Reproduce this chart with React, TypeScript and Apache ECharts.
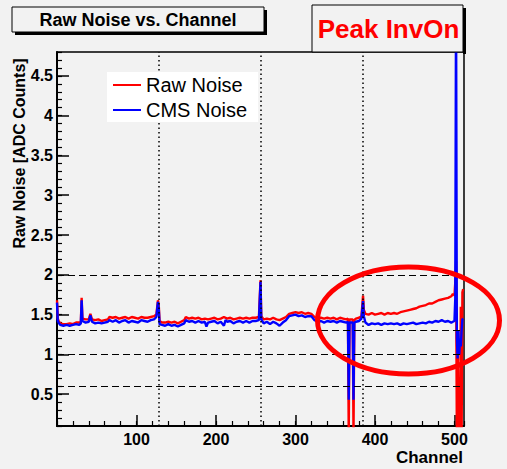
import React, { useEffect, useRef } from "react";
import * as echarts from "echarts";

// [channel, noise] pairs
const rawNoise: [number, number][] = [
  [0, 1.68], [1, 1.45], [2, 1.42], [4, 1.39], [8, 1.38], [12, 1.38], [16, 1.39], [20, 1.38],
  [24, 1.4], [28, 1.4], [30, 1.41], [31, 1.71], [32, 1.45], [36, 1.44], [40, 1.44], [42, 1.51],
  [44, 1.44], [48, 1.43], [52, 1.44], [56, 1.42], [60, 1.43], [64, 1.44], [66, 1.47], [70, 1.46],
  [74, 1.47], [78, 1.45], [82, 1.46], [86, 1.47], [90, 1.45], [94, 1.47], [98, 1.46], [102, 1.45],
  [106, 1.47], [110, 1.46], [114, 1.46], [118, 1.47], [122, 1.48], [125, 1.5], [127, 1.68], [128, 1.62],
  [129, 1.42], [132, 1.4], [136, 1.4], [140, 1.41], [144, 1.4], [148, 1.41], [152, 1.39], [156, 1.41],
  [160, 1.43], [162, 1.47], [166, 1.45], [170, 1.46], [174, 1.45], [178, 1.46], [182, 1.44], [186, 1.45],
  [190, 1.44], [194, 1.45], [198, 1.46], [202, 1.44], [206, 1.45], [210, 1.47], [214, 1.45], [218, 1.46],
  [222, 1.44], [226, 1.45], [230, 1.46], [234, 1.45], [238, 1.46], [242, 1.45], [246, 1.46], [250, 1.46],
  [254, 1.47], [256, 1.93], [257, 1.48], [260, 1.44], [264, 1.45], [268, 1.44], [272, 1.46], [276, 1.44],
  [280, 1.43], [284, 1.45], [288, 1.47], [292, 1.51], [296, 1.52], [300, 1.53], [304, 1.52], [308, 1.53],
  [312, 1.51], [316, 1.52], [320, 1.51], [324, 1.47], [328, 1.45], [332, 1.46], [336, 1.45], [340, 1.46],
  [344, 1.45], [348, 1.46], [352, 1.44], [356, 1.46], [360, 1.45], [364, 1.44], [366, 1.45], [367, 0.0],
  [368, 1.44], [372, 1.44], [373, 0.0], [374, 1.43], [376, 1.45], [380, 1.46], [383, 1.48], [385, 1.74],
  [386, 1.56], [388, 1.51], [392, 1.5], [396, 1.52], [400, 1.5], [404, 1.51], [408, 1.52], [412, 1.5],
  [416, 1.52], [420, 1.51], [424, 1.52], [428, 1.51], [432, 1.53], [436, 1.54], [440, 1.55], [444, 1.56],
  [448, 1.57], [452, 1.58], [456, 1.6], [460, 1.61], [464, 1.62], [468, 1.64], [472, 1.64], [476, 1.66],
  [480, 1.68], [484, 1.69], [488, 1.7], [492, 1.71], [496, 1.73], [498, 1.76], [500, 1.74], [501, 1.9],
  [502, 2.17], [503, 0.0], [504, 1.2], [505, 0.0], [506, 0.3], [507, 0.0], [508, 1.6], [509, 0.0],
  [510, 1.78], [511, 1.82],
];

const cmsNoise: [number, number][] = [
  [0, 1.65], [1, 1.42], [2, 1.4], [4, 1.37], [8, 1.36], [12, 1.37], [16, 1.36], [20, 1.37],
  [24, 1.38], [28, 1.37], [30, 1.39], [31, 1.68], [32, 1.42], [36, 1.4], [40, 1.41], [42, 1.49],
  [44, 1.41], [48, 1.39], [52, 1.4], [56, 1.39], [60, 1.4], [64, 1.41], [66, 1.43], [70, 1.41],
  [74, 1.43], [78, 1.4], [82, 1.42], [86, 1.43], [90, 1.4], [94, 1.42], [98, 1.41], [102, 1.4],
  [106, 1.43], [110, 1.42], [114, 1.41], [118, 1.43], [122, 1.44], [125, 1.47], [127, 1.66], [128, 1.58],
  [129, 1.38], [132, 1.37], [136, 1.36], [140, 1.38], [144, 1.36], [148, 1.37], [152, 1.35], [156, 1.37],
  [160, 1.39], [162, 1.43], [166, 1.41], [170, 1.42], [174, 1.4], [178, 1.42], [182, 1.4], [186, 1.41],
  [188, 1.35], [190, 1.4], [194, 1.41], [198, 1.42], [202, 1.39], [206, 1.41], [210, 1.36], [212, 1.43],
  [214, 1.41], [218, 1.42], [222, 1.39], [226, 1.41], [230, 1.42], [234, 1.4], [238, 1.42], [242, 1.4],
  [246, 1.42], [250, 1.42], [254, 1.43], [256, 1.91], [257, 1.44], [260, 1.39], [264, 1.41], [268, 1.38],
  [272, 1.41], [276, 1.39], [280, 1.36], [284, 1.4], [288, 1.43], [292, 1.48], [296, 1.49], [300, 1.5],
  [304, 1.48], [308, 1.49], [312, 1.47], [316, 1.48], [320, 1.48], [324, 1.43], [328, 1.41], [332, 1.42],
  [336, 1.4], [340, 1.42], [344, 1.41], [348, 1.42], [352, 1.4], [356, 1.42], [360, 1.41], [364, 1.4],
  [366, 1.41], [367, 0.43], [368, 1.4], [372, 1.4], [373, 0.43], [374, 1.4], [376, 1.41], [380, 1.42],
  [383, 1.45], [385, 1.67], [386, 1.48], [388, 1.4], [392, 1.37], [396, 1.39], [400, 1.38], [404, 1.39],
  [408, 1.37], [412, 1.39], [416, 1.38], [420, 1.39], [424, 1.38], [428, 1.39], [432, 1.37], [436, 1.39],
  [440, 1.38], [444, 1.39], [448, 1.4], [452, 1.38], [456, 1.39], [460, 1.4], [464, 1.39], [468, 1.41],
  [472, 1.4], [476, 1.42], [480, 1.41], [484, 1.43], [488, 1.41], [492, 1.42], [496, 1.4], [498, 1.41],
  [500, 1.42], [501, 1.7], [502, 5.5], [503, 1.2], [504, 0.95], [505, 1.3], [506, 1.0], [507, 1.2],
  [508, 1.1], [509, 1.3], [510, 1.44], [511, 1.45],
];

const seriesNames = ["Raw Noise", "CMS Noise"];
const xTickLabels = [100, 200, 300, 400, 500];
const yTickLabels = [0.5, 1, 1.5, 2, 2.5, 3, 3.5, 4, 4.5];
const thresholdLevels = [2, 1.3, 1.0, 0.6];
const boundaryChannels = [128, 256, 384];
const titleText = "Raw Noise vs. Channel";
const stampText = "Peak InvOn";
const xTitle = "Channel";
const yTitle = "Raw Noise [ADC Counts]";

const FONT = "'Liberation Sans', Arial, Helvetica, sans-serif";
const BG = "#f2f2f2";

export default function App() {
  const ref = useRef<HTMLDivElement>(null);

  useEffect(() => {
    if (!ref.current) return;
    const chart = echarts.init(ref.current, undefined, { renderer: "svg" });

    const markLines = [
      ...thresholdLevels.map((v) => ({
        yAxis: v,
        lineStyle: { type: [7, 4], color: "#000", width: 1.2 },
      })),
      ...boundaryChannels.map((c) => ({
        xAxis: c,
        lineStyle: { type: [1.5, 3], color: "#000", width: 1.5 },
      })),
    ];

    const tickFont = { fontSize: 16, fontWeight: "bold", color: "#000", fontFamily: FONT };

    chart.setOption({
      animation: false,
      backgroundColor: BG,
      grid: {
        left: 57, top: 52, right: 43, bottom: 43,
        show: true, borderColor: "#000", borderWidth: 1.5, backgroundColor: "transparent",
      },
      legend: {
        data: seriesNames,
        orient: "vertical",
        left: 107, top: 72,
        icon: "rect", itemWidth: 28, itemHeight: 2, itemGap: 5,
        backgroundColor: "#ffffff",
        padding: [3, 11, 2, 6],
        selectedMode: false,
        textStyle: { fontSize: 20, color: "#000", fontFamily: FONT },
        z: 20,
      },
      xAxis: [
        {
          type: "value", min: 0, max: 512, position: "bottom",
          axisLine: { show: true, lineStyle: { color: "#000", width: 2 } },
          axisTick: { show: true, inside: true, length: 11, customValues: [0, ...xTickLabels], lineStyle: { color: "#000", width: 1.5 } },
          axisLabel: { show: true, customValues: xTickLabels, margin: 5, lineHeight: 16, ...tickFont },
          splitLine: { show: false },
        },
        {
          type: "value", min: 0, max: 512, interval: 20, position: "bottom",
          axisLine: { show: false },
          axisTick: { show: true, inside: true, length: 5, lineStyle: { color: "#000", width: 1.2 } },
          axisLabel: { show: false },
          splitLine: { show: false },
        },
      ],
      yAxis: [
        {
          type: "value", min: 0.1, max: 4.8, position: "left",
          axisLine: { show: true, lineStyle: { color: "#000", width: 2 } },
          axisTick: { show: true, inside: true, length: 12, customValues: yTickLabels, lineStyle: { color: "#000", width: 1.5 } },
          axisLabel: { show: true, customValues: yTickLabels, margin: 4, ...tickFont },
          splitLine: { show: false },
        },
        {
          type: "value", min: 0.1, max: 4.8, interval: 0.1, position: "left",
          axisLine: { show: false },
          axisTick: { show: true, inside: true, length: 5, lineStyle: { color: "#000", width: 1.2 } },
          axisLabel: { show: false },
          splitLine: { show: false },
        },
      ],
      series: [
        {
          name: seriesNames[0], type: "line", data: rawNoise,
          xAxisIndex: 0, yAxisIndex: 0,
          symbol: "none", showSymbol: false, clip: true,
          color: "#ff0000",
          lineStyle: { color: "#ff0000", width: 2.4 },
          z: 3,
          markLine: {
            silent: true, symbol: ["none", "none"], label: { show: false },
            data: markLines,
          },
        },
        {
          name: seriesNames[1], type: "line", data: cmsNoise,
          xAxisIndex: 0, yAxisIndex: 0,
          symbol: "none", showSymbol: false, clip: true,
          color: "#0000ff",
          lineStyle: { color: "#0000ff", width: 2.4 },
          z: 4,
        },
      ],
      graphic: [
        { type: "rect", shape: { x: 15, y: 10, width: 252, height: 25 }, style: { fill: "#000" }, z: 30 },
        { type: "rect", shape: { x: 12, y: 7, width: 252, height: 25 }, style: { fill: BG, stroke: "#000", lineWidth: 1 }, z: 31 },
        {
          type: "text", x: 138, y: 19.5, z: 32,
          style: { text: titleText, fill: "#000", font: `bold 18px ${FONT}`, textAlign: "center", textVerticalAlign: "middle" },
        },
        {
          type: "ellipse", shape: { cx: 408.5, cy: 320.5, rx: 91, ry: 53.5 },
          style: { fill: "none", stroke: "#ff0000", lineWidth: 5 }, z: 40,
        },
        { type: "rect", shape: { x: 463, y: 8, width: 3, height: 46 }, style: { fill: "#000" }, z: 41 },
        { type: "rect", shape: { x: 312, y: 5, width: 151, height: 47 }, style: { fill: BG, stroke: "#000", lineWidth: 1 }, z: 42 },
        {
          type: "text", x: 388.5, y: 29, z: 43,
          style: { text: stampText, fill: "#ff0000", font: `bold 26px ${FONT}`, textAlign: "center", textVerticalAlign: "middle" },
        },
        {
          type: "text", x: 463, y: 457, z: 43,
          style: { text: xTitle, fill: "#000", font: `bold 17px ${FONT}`, textAlign: "right", textVerticalAlign: "middle" },
        },
        {
          type: "text", x: 19, y: 153.5, rotation: Math.PI / 2, z: 43,
          style: { text: yTitle, fill: "#000", font: `bold 16px ${FONT}`, textAlign: "center", textVerticalAlign: "middle" },
        },
      ],
    });

    return () => chart.dispose();
  }, []);

  return (
    <div
      ref={ref}
      style={{ position: "fixed", left: 0, top: 0, width: 507, height: 469, background: BG }}
    />
  );
}
